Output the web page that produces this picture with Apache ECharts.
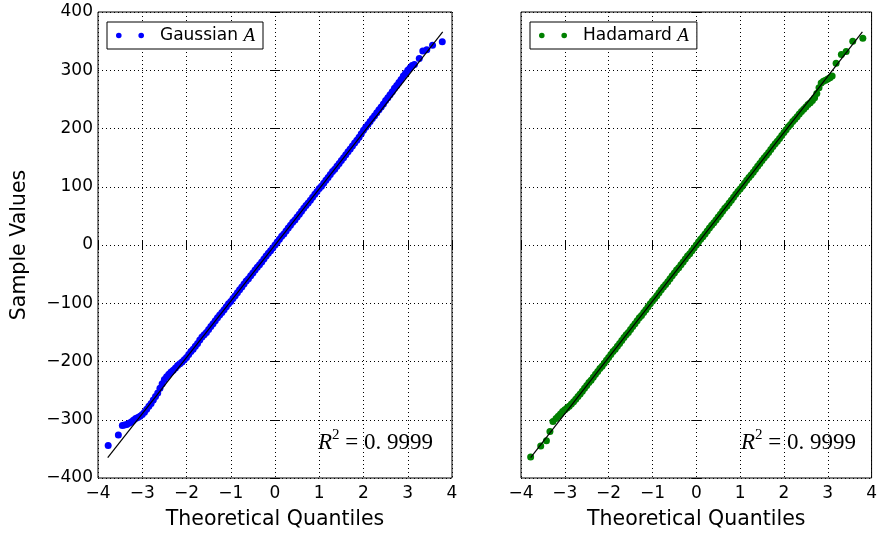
<!DOCTYPE html>
<html>
<head>
<meta charset="utf-8">
<script src="https://cdn.jsdelivr.net/npm/echarts/dist/echarts.min.js"></script>
<style>
  html, body { margin: 0; padding: 0; background: #ffffff; }
  #chart { width: 880px; height: 539px; }
</style>
</head>
<body>
<div id="chart"></div>
<script>
// Normal probability plots of two sketching matrices.

const seriesNames = ['Gaussian A', 'Hadamard A'];
const seriesColors = ['#0000ff', '#008000'];

// Theoretical quantiles and ordered sample values, Gaussian A
const gaussQ = [
  -3.77, -3.54,
  -3.45, -3.40, -3.35, -3.30, -3.25, -3.20, -3.15, -3.10, -3.05, -3.00,
  -2.95, -2.90, -2.85, -2.80, -2.75, -2.70, -2.65, -2.60, -2.55, -2.50,
  -2.45, -2.40, -2.35, -2.30, -2.25, -2.20, -2.15, -2.10, -2.05, -2.00,
  -1.95, -1.90, -1.85, -1.80, -1.75, -1.70, -1.65, -1.60, -1.55, -1.50,
  -1.45, -1.40, -1.35, -1.30, -1.25, -1.20, -1.15, -1.10, -1.05, -1.00,
  -0.95, -0.90, -0.85, -0.80, -0.75, -0.70, -0.65, -0.60, -0.55, -0.50,
  -0.45, -0.40, -0.35, -0.30, -0.25, -0.20, -0.15, -0.10, -0.05, 0.00,
  0.05, 0.10, 0.15, 0.20, 0.25, 0.30, 0.35, 0.40, 0.45, 0.50,
  0.55, 0.60, 0.65, 0.70, 0.75, 0.80, 0.85, 0.90, 0.95, 1.00,
  1.05, 1.10, 1.15, 1.20, 1.25, 1.30, 1.35, 1.40, 1.45, 1.50,
  1.55, 1.60, 1.65, 1.70, 1.75, 1.80, 1.85, 1.90, 1.95, 2.00,
  2.05, 2.10, 2.15, 2.20, 2.25, 2.30, 2.35, 2.40, 2.45, 2.50,
  2.55, 2.60, 2.65, 2.70, 2.75, 2.80, 2.85, 2.90, 2.95, 3.00,
  3.05, 3.10, 3.15,
  3.26, 3.34, 3.43, 3.56, 3.78
];
const gaussS = [
  -344, -326,
  -310, -309, -308, -306, -304, -301, -298, -296, -294, -291,
  -287, -282, -277, -272, -266, -260, -254, -246, -238, -231,
  -226, -222, -218, -215, -211, -207, -204, -201, -197, -193,
  -188, -183, -179, -174, -169, -163, -158, -154, -150, -145,
  -140, -135, -130, -125, -120, -116, -111, -106, -101, -97,
  -92, -87, -82, -77, -72, -67, -62, -58, -53, -48,
  -43, -38, -34, -29, -24, -19, -14, -10, -5, 0,
  5, 10, 15, 19, 24, 29, 34, 39, 43, 48,
  53, 58, 63, 68, 72, 77, 82, 87, 92, 97,
  101, 106, 111, 116, 121, 126, 130, 135, 140, 145,
  150, 155, 160, 165, 170, 175, 180, 185, 191, 197,
  202, 207, 212, 217, 222, 227, 232, 237, 242, 248,
  253, 258, 263, 269, 274, 279, 284, 290, 295, 300,
  304, 308, 310,
  320, 333, 335, 343, 349
];

// Theoretical quantiles and ordered sample values, Hadamard A
const hadQ = [
  -3.78, -3.55, -3.42, -3.34,
  -3.27, -3.20, -3.15, -3.10, -3.05, -3.00,
  -2.95, -2.90, -2.85, -2.80, -2.75, -2.70, -2.65, -2.60, -2.55, -2.50,
  -2.45, -2.40, -2.35, -2.30, -2.25, -2.20, -2.15, -2.10, -2.05, -2.00,
  -1.95, -1.90, -1.85, -1.80, -1.75, -1.70, -1.65, -1.60, -1.55, -1.50,
  -1.45, -1.40, -1.35, -1.30, -1.25, -1.20, -1.15, -1.10, -1.05, -1.00,
  -0.95, -0.90, -0.85, -0.80, -0.75, -0.70, -0.65, -0.60, -0.55, -0.50,
  -0.45, -0.40, -0.35, -0.30, -0.25, -0.20, -0.15, -0.10, -0.05, 0.00,
  0.05, 0.10, 0.15, 0.20, 0.25, 0.30, 0.35, 0.40, 0.45, 0.50,
  0.55, 0.60, 0.65, 0.70, 0.75, 0.80, 0.85, 0.90, 0.95, 1.00,
  1.05, 1.10, 1.15, 1.20, 1.25, 1.30, 1.35, 1.40, 1.45, 1.50,
  1.55, 1.60, 1.65, 1.70, 1.75, 1.80, 1.85, 1.90, 1.95, 2.00,
  2.05, 2.10, 2.15, 2.20, 2.25, 2.30, 2.35, 2.40, 2.45, 2.50,
  2.55, 2.60, 2.65, 2.70, 2.75, 2.80, 2.85, 2.90, 2.95, 3.00,
  3.05, 3.10,
  3.19, 3.31, 3.42, 3.57, 3.80
];
const hadS = [
  -364, -345, -336, -320,
  -303, -298, -294, -290, -286, -283,
  -280, -277, -273, -269, -265, -260, -256, -251, -246, -241,
  -236, -232, -227, -222, -217, -212, -208, -203, -198, -193,
  -188, -183, -179, -174, -169, -164, -159, -154, -150, -145,
  -140, -135, -130, -125, -121, -116, -111, -106, -101, -96,
  -92, -87, -82, -77, -72, -68, -63, -58, -53, -48,
  -43, -39, -34, -29, -24, -19, -15, -10, -5, 0,
  5, 10, 14, 19, 24, 29, 34, 38, 43, 48,
  53, 58, 63, 67, 72, 77, 82, 87, 92, 96,
  101, 106, 111, 116, 120, 125, 130, 135, 140, 145,
  150, 154, 159, 164, 169, 174, 178, 183, 188, 193,
  198, 203, 207, 212, 216, 220, 225, 229, 233, 237,
  241, 244, 248, 253, 260, 270, 278, 281, 283, 285,
  287, 290,
  312, 327, 332, 350, 355
];

// Reference (fitted) line end points, shared by both panels
const fitQ = [-3.78, 3.79];
const fitS = [-365, 366];

// Goodness of fit shown in each panel
const r2Values = ['0. 9999', '0. 9999'];

// Axis ranges and tick steps
const xRange = [-4, 4];
const xStep = 1;
const yRange = [-400, 400];
const yStep = 100;

const FONT = 'DejaVu Sans';

function zip(xs, ys) {
  return xs.map((x, i) => [x, ys[i]]);
}
function minusFmt(v) {
  return v < 0 ? '\u2212' + Math.abs(v) : String(v);
}

const gridBoxes = [
  { left: 98, top: 12, width: 354, height: 466 },
  { left: 521, top: 12, width: 353, height: 466 }
];

const tickStyle = { show: true, inside: true, length: 5, lineStyle: { color: '#000', width: 1 } };
const gridLineStyle = { show: true, lineStyle: { color: '#000', width: 1, type: [1, 3] } };

const xAxes = [];
const yAxes = [];
gridBoxes.forEach((g, gi) => {
  // bottom axis with labels and title
  xAxes.push({
    type: 'value', gridIndex: gi, position: 'bottom',
    min: xRange[0], max: xRange[1], interval: xStep,
    axisLine: { show: false }, axisTick: tickStyle,
    axisLabel: { show: true, formatter: minusFmt, color: '#000', fontFamily: FONT, fontSize: 17, margin: 7 },
    splitLine: gridLineStyle,
    name: 'Theoretical Quantiles', nameLocation: 'middle', nameGap: 31,
    nameTextStyle: { color: '#000', fontFamily: FONT, fontSize: 20.5 }
  });
  // top axis, ticks only
  xAxes.push({
    type: 'value', gridIndex: gi, position: 'top',
    min: xRange[0], max: xRange[1], interval: xStep,
    axisLine: { show: false }, axisTick: tickStyle,
    axisLabel: { show: false }, splitLine: { show: false }
  });
  // left axis
  yAxes.push({
    type: 'value', gridIndex: gi, position: 'left',
    min: yRange[0], max: yRange[1], interval: yStep,
    axisLine: { show: false }, axisTick: tickStyle,
    axisLabel: { show: gi === 0, formatter: minusFmt, color: '#000', fontFamily: FONT, fontSize: 17, margin: 5 },
    splitLine: gridLineStyle,
    name: gi === 0 ? 'Sample Values' : '', nameLocation: 'middle', nameGap: 68,
    nameTextStyle: { color: '#000', fontFamily: FONT, fontSize: 20.5 }
  });
  // right axis, ticks only
  yAxes.push({
    type: 'value', gridIndex: gi, position: 'right',
    min: yRange[0], max: yRange[1], interval: yStep,
    axisLine: { show: false }, axisTick: tickStyle,
    axisLabel: { show: false }, splitLine: { show: false }
  });
});

const samples = [zip(gaussQ, gaussS), zip(hadQ, hadS)];
const series = [];
samples.forEach((data, i) => {
  series.push({
    name: seriesNames[i], type: 'scatter',
    xAxisIndex: i * 2, yAxisIndex: i * 2,
    data: data, symbol: 'circle', symbolSize: 7,
    itemStyle: { color: seriesColors[i], opacity: 1 },
    z: 2, silent: true
  });
  series.push({
    type: 'line', xAxisIndex: i * 2, yAxisIndex: i * 2,
    data: zip(fitQ, fitS), showSymbol: false, symbol: 'none',
    lineStyle: { color: '#000', width: 1.2 }, z: 3, silent: true
  });
});

// two-marker legend glyph
const twoDots = 'path://M0,3a3,3 0 1,0 6,0a3,3 0 1,0 -6,0M24,3a3,3 0 1,0 6,0a3,3 0 1,0 -6,0';
const legendPos = [{ left: 107, top: 22 }, { left: 530, top: 22 }];
const legends = seriesNames.map((name, i) => ({
  data: [{ name: name, icon: twoDots, itemStyle: { color: seriesColors[i] } }],
  left: legendPos[i].left, top: legendPos[i].top,
  orient: 'horizontal',
  itemWidth: 28, itemHeight: 5.6,
  padding: [4, 8, 4, 9],
  borderColor: '#000', borderWidth: 1, borderRadius: 0,
  backgroundColor: '#fff',
  selectedMode: false,
  formatter: n => {
    const parts = n.split(' ');
    return '{n|' + parts[0] + ' }{m|' + parts[1] + '}';
  },
  textStyle: {
    color: '#000',
    rich: {
      n: { fontFamily: FONT, fontSize: 17, color: '#000', padding: [0, 0, 0, 11] },
      m: { fontFamily: 'Liberation Serif', fontStyle: 'italic', fontSize: 19, color: '#000' }
    }
  }
}));

const r2Anchor = [{ x: 433, y: 441 }, { x: 856, y: 441 }];
const graphics = r2Values.map((v, i) => ({
  type: 'text', x: r2Anchor[i].x, y: r2Anchor[i].y, z: 10, silent: true,
  style: {
    text: '{i|R}{s|2}{r| = ' + v + '}',
    align: 'right', verticalAlign: 'middle',
    rich: {
      i: { fontFamily: 'Liberation Serif', fontStyle: 'italic', fontSize: 23, fill: '#000', lineHeight: 26, verticalAlign: 'bottom' },
      s: { fontFamily: 'Liberation Serif', fontSize: 15, fill: '#000', lineHeight: 26, verticalAlign: 'top' },
      r: { fontFamily: 'Liberation Serif', fontSize: 23, fill: '#000', lineHeight: 26, verticalAlign: 'bottom' }
    }
  }
}));

const chart = echarts.init(document.getElementById('chart'), null, { renderer: 'canvas' });
chart.setOption({
  animation: false,
  backgroundColor: '#ffffff',
  textStyle: { fontFamily: FONT },
  grid: gridBoxes.map(g => Object.assign({ show: true, borderColor: '#000', borderWidth: 1, backgroundColor: 'transparent', containLabel: false }, g)),
  xAxis: xAxes,
  yAxis: yAxes,
  legend: legends,
  series: series,
  graphic: graphics
});
</script>
</body>
</html>
